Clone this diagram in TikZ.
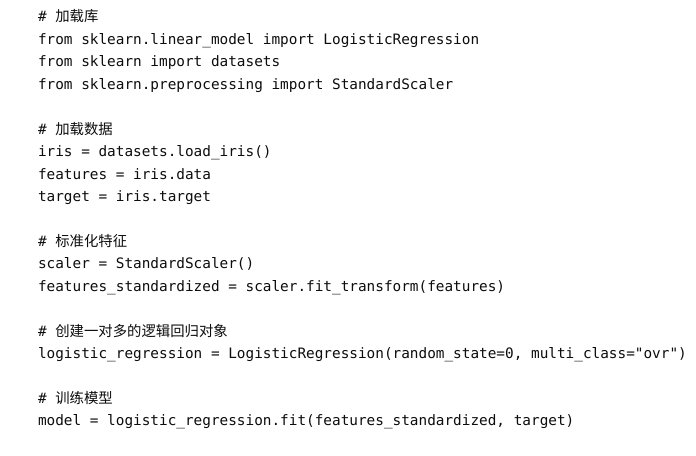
\documentclass[tikz,border=0pt]{standalone}
\usepackage{fontspec}
\setmonofont{DejaVu Sans Mono}
\newfontfamily\cjk{Noto Sans CJK SC}
\begin{document}
\begin{tikzpicture}[x=1bp,y=1bp,
  codeline/.style={anchor=base west,inner sep=0pt,outer sep=0pt,text=black!95,
    font=\ttfamily\fontsize{14.37bp}{17bp}\selectfont}]
\useasboundingbox (0,0) rectangle (696,456);
\fill[white] (0,0) rectangle (696,456);
\def\lh{22.44}
\node[codeline] (l0) at (38,{456-22}) {\# {\cjk 加载库}};
\node[codeline] (l1) at (38,{456-22-1*\lh}) {from sklearn.linear\_model import LogisticRegression};
\node[codeline] (l2) at (38,{456-22-2*\lh}) {from sklearn import datasets};
\node[codeline] (l3) at (38,{456-22-3*\lh}) {from sklearn.preprocessing import StandardScaler};
\node[codeline] (l5) at (38,{456-22-5*\lh}) {\# {\cjk 加载数据}};
\node[codeline] (l6) at (38,{456-22-6*\lh}) {iris = datasets.load\_iris()};
\node[codeline] (l7) at (38,{456-22-7*\lh}) {features = iris.data};
\node[codeline] (l8) at (38,{456-22-8*\lh}) {target = iris.target};
\node[codeline] (l10) at (38,{456-22-10*\lh}) {\# {\cjk 标准化特征}};
\node[codeline] (l11) at (38,{456-22-11*\lh}) {scaler = StandardScaler()};
\node[codeline] (l12) at (38,{456-22-12*\lh}) {features\_standardized = scaler.fit\_transform(features)};
\node[codeline] (l14) at (38,{456-22-14*\lh}) {\# {\cjk 创建一对多的逻辑回归对象}};
\node[codeline] (l15) at (38,{456-22-15*\lh}) {logistic\_regression = LogisticRegression(random\_state=0, multi\_class="ovr")};
\node[codeline] (l17) at (38,{456-22-17*\lh}) {\# {\cjk 训练模型}};
\node[codeline] (l18) at (38,{456-22-18*\lh}) {model = logistic\_regression.fit(features\_standardized, target)};
\end{tikzpicture}
\end{document}
